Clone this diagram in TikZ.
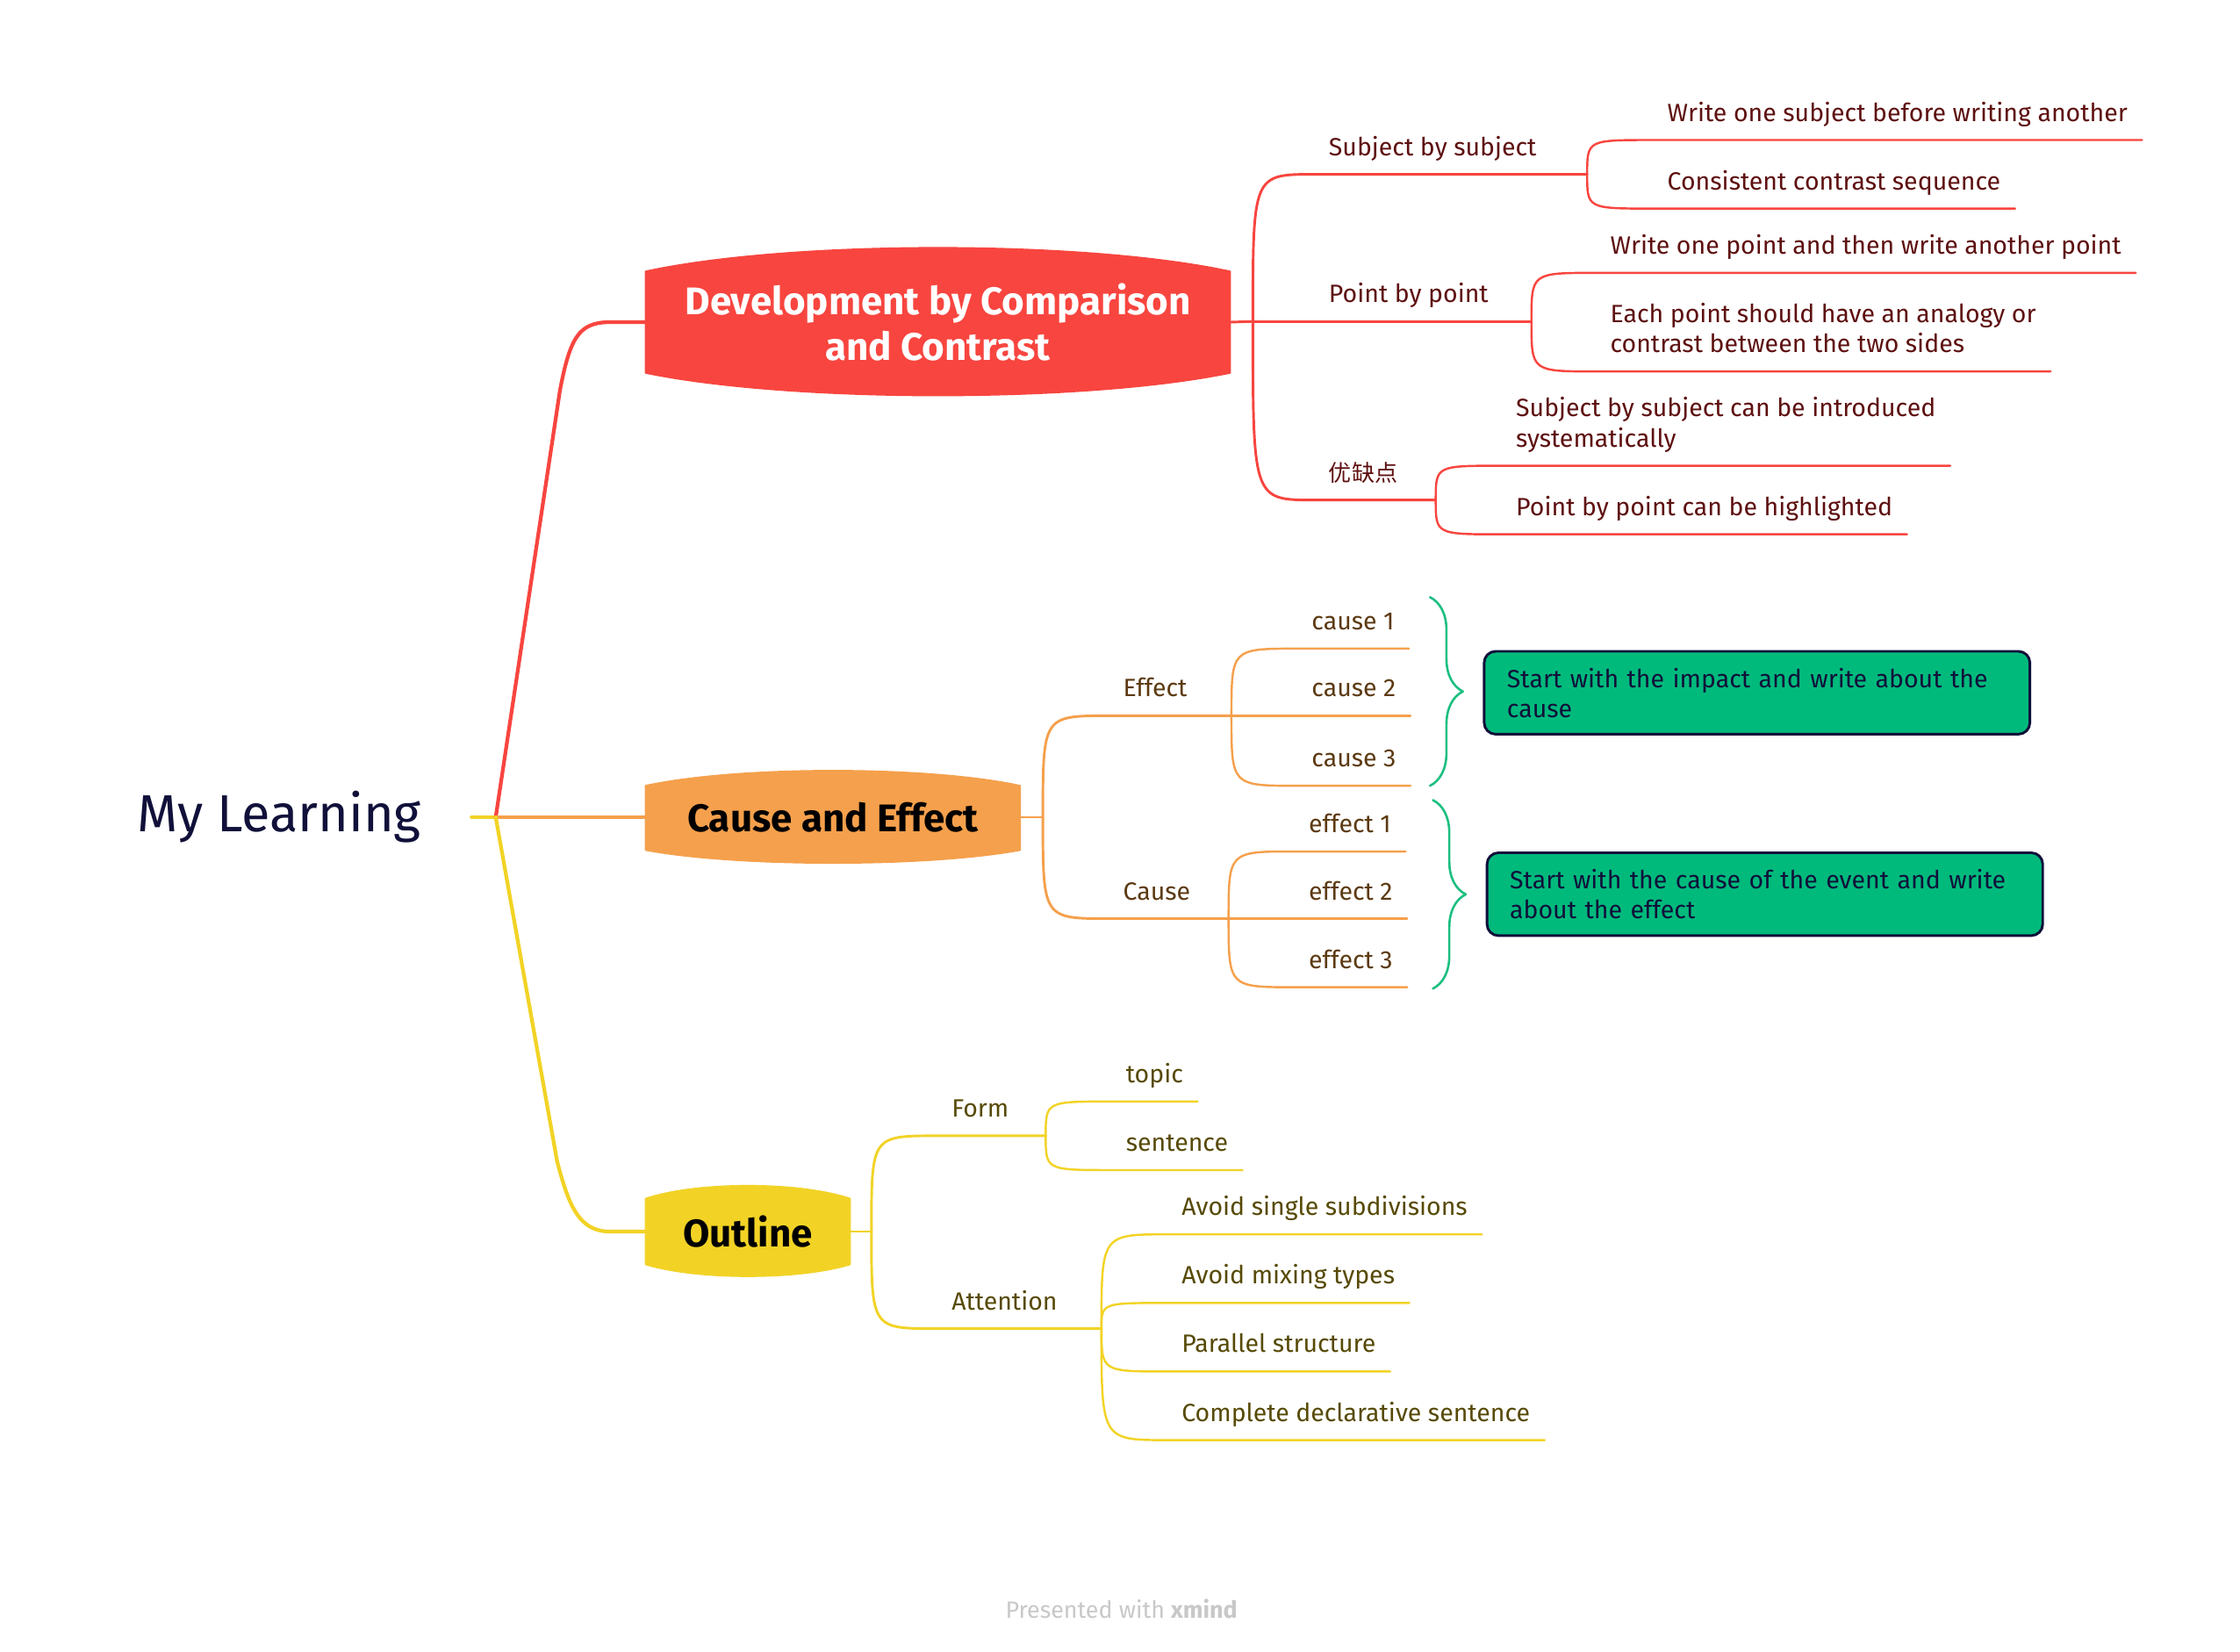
\documentclass[tikz,border=0pt]{standalone}
\usepackage{fontspec}
\setmainfont{Fira Sans}
\newfontfamily\cjkfont{Noto Sans CJK SC}
\usetikzlibrary{decorations.pathreplacing}

\definecolor{mapred}{HTML}{F8453F}
\definecolor{maporange}{HTML}{F5A04C}
\definecolor{mapyellow}{HTML}{F2D325}
\definecolor{mapgreen}{HTML}{1DBF80}
\definecolor{sumfill}{HTML}{00BA7C}
\definecolor{navy}{HTML}{10103A}
\definecolor{redtext}{HTML}{5E1010}
\definecolor{orangetext}{HTML}{5C3A12}
\definecolor{yellowtext}{HTML}{574A06}
\definecolor{creditgray}{HTML}{C8C8C8}

\tikzset{
  leaf/.style={anchor=south west, inner xsep=10, inner ysep=8, text depth=5,
    align=left, font=\fontsize{17.5}{21}\selectfont},
  redleaf/.style={leaf, text=redtext},
  orangeleaf/.style={leaf, text=orangetext},
  yellowleaf/.style={leaf, text=yellowtext},
  maintopic/.style={inner sep=0, align=center, font=\fontsize{27}{32}\selectfont\bfseries},
  summary/.style={anchor=north west, draw=navy, line width=1.8, fill=sumfill,
    rounded corners=8, inner xsep=16, align=left, text=navy, minimum height=58,
    font=\fontsize{17.5}{21}\selectfont},
  redm/.style={draw=mapred, line width=1.8},
  redl/.style={draw=mapred, line width=1.5},
  orangem/.style={draw=maporange, line width=1.8},
  orangel/.style={draw=maporange, line width=1.5},
  yellowm/.style={draw=mapyellow, line width=1.8},
  yellowl/.style={draw=mapyellow, line width=1.5}
}

\begin{document}
\begin{tikzpicture}[x=1pt, y=-1pt, line cap=round, line join=round]
    \fill[white] (0,0) rectangle (1568,1156);
    \useasboundingbox (0,0) rectangle (1568,1156);
    % Central topic
    \node[font=\fontsize{36.5}{40}\selectfont, text=navy, anchor=east, inner xsep=35] (root) at (330,572) {My Learning};
    \coordinate (jr) at (347,572);
    % Development box
    \filldraw[fill=mapred, draw=mapred, line width=1.2] (452,190) .. controls (554,168) and (759,168) .. (861,190)
      -- (861,261) .. controls (759,282) and (554,282) .. (452,261) -- cycle;
    \node[maintopic, text=white, minimum width=409, minimum height=71] (dev) at (656.5,225.5) {Development by Comparison\\and Contrast};
    % Cause and effect box
    \filldraw[fill=maporange, draw=maporange, line width=1.2] (452,550) .. controls (517,536) and (649,536) .. (714,550)
      -- (714,595) .. controls (649,607) and (517,607) .. (452,595) -- cycle;
    \node[maintopic, minimum width=262, minimum height=45] (ce) at (583,572) {Cause and Effect};
    % Outline box
    \filldraw[fill=mapyellow, draw=mapyellow, line width=1.2] (452,839) .. controls (488,827) and (559,827) .. (595,839)
      -- (595,885) .. controls (559,896) and (488,896) .. (452,885) -- cycle;
    \node[maintopic, minimum width=143, minimum height=46] (out) at (523.5,862) {Outline};
    % Main branches
    \draw[mapyellow, line width=2.4] (root.east) -- (jr);
    \draw[mapred, line width=2.6] (jr) -- ++(45,-299) .. controls +(7,-36) and +(-22,0) .. ([xshift=-25]dev.west) -- (dev.west);
    \draw[maporange, line width=2.4] (jr) -- (ce.west);
    \draw[mapyellow, line width=2.6] (jr) -- ++(43,241) .. controls +(8,30) and +(-22,0) .. ([xshift=-25]out.west) -- (out.west);

    % Development branches
    \coordinate (dev-j) at (877,225);
    \node[redleaf] (sbs) at (920,122) {Subject by subject};
    \node[redleaf] (pbp) at (920,225) {Point by point};
    \node[redleaf, font=\cjkfont\fontsize{16}{21}\selectfont] (pros) at (920,350) {优缺点};
    \coordinate (sbs-j) at (1111,122);
    \coordinate (pbp-j) at (1072,225);
    \coordinate (pros-j) at (1005,350);
    \draw[redm] (dev.east) -- (dev-j);
    \draw[redm] (dev-j) .. controls (dev-j |- sbs.south west) .. (sbs.south west) -- (sbs-j);
    \draw[redm] (dev-j) -- (pbp.south west) -- (pbp-j);
    \draw[redm] (dev-j) .. controls (dev-j |- pros.south west) .. (pros.south west) -- (pros-j);
    % Subject by subject
    \node[redleaf] (ws1) at (1157,98) {Write one subject before writing another};
    \node[redleaf] (ws2) at (1157,146) {Consistent contrast sequence};
    \draw[redl] (sbs-j) .. controls (sbs-j |- ws1.south west) .. (ws1.south west) -- (ws1.south east);
    \draw[redl] (sbs-j) .. controls (sbs-j |- ws2.south west) .. (ws2.south west) -- (ws2.south east);
    % Point by point
    \node[redleaf] (wp1) at (1117,191) {Write one point and then write another point};
    \node[redleaf] (wp2) at (1117,260) {Each point should have an analogy or\\contrast between the two sides};
    \draw[redl] (pbp-j) .. controls (pbp-j |- wp1.south west) .. (wp1.south west) -- (wp1.south east);
    \draw[redl] (pbp-j) .. controls (pbp-j |- wp2.south west) .. (wp2.south west) -- (wp2.south east);
    % Pros and cons
    \node[redleaf] (pc1) at (1051,326) {Subject by subject can be introduced\\systematically};
    \node[redleaf] (pc2) at (1051,374) {Point by point can be highlighted};
    \draw[redl] (pros-j) .. controls (pros-j |- pc1.south west) .. (pc1.south west) -- (pc1.south east);
    \draw[redl] (pros-j) .. controls (pros-j |- pc2.south west) .. (pc2.south west) -- (pc2.south east);

    % Cause and effect branches
    \coordinate (ce-j) at (730,572);
    \node[orangeleaf] (eff) at (776,501) {Effect};
    \node[orangeleaf] (cau) at (776,643) {Cause};
    \coordinate (eff-j) at (862,501);
    \coordinate (cau-j) at (860,643);
    \draw[orangem] (ce.east) -- (ce-j);
    \draw[orangem] (ce-j) .. controls (ce-j |- eff.south west) .. (eff.south west) -- (eff-j);
    \draw[orangem] (ce-j) .. controls (ce-j |- cau.south west) .. (cau.south west) -- (cau-j);
    % Effect
    \node[orangeleaf] (c1) at (908,454) {cause 1};
    \node[orangeleaf] (c2) at (908,501) {cause 2};
    \node[orangeleaf] (c3) at (908,550) {cause 3};
    \draw[orangel] (eff-j) .. controls (eff-j |- c1.south west) .. (c1.south west) -- (c1.south east);
    \draw[orangel] (eff-j) -- (c2.south west) -- (c2.south east);
    \draw[orangel] (eff-j) .. controls (eff-j |- c3.south west) .. (c3.south west) -- (c3.south east);
    % Cause
    \node[orangeleaf] (e1) at (906,596) {effect 1};
    \node[orangeleaf] (e2) at (906,643) {effect 2};
    \node[orangeleaf] (e3) at (906,691) {effect 3};
    \draw[orangel] (cau-j) .. controls (cau-j |- e1.south west) .. (e1.south west) -- (e1.south east);
    \draw[orangel] (cau-j) -- (e2.south west) -- (e2.south east);
    \draw[orangel] (cau-j) .. controls (cau-j |- e3.south west) .. (e3.south west) -- (e3.south east);
    % Summaries
    \coordinate (br1-top) at (1001,418);
    \coordinate (br1-bot) at (1001,550);
    \coordinate (br2-top) at (1003,560);
    \coordinate (br2-bot) at (1003,692);
    \draw[mapgreen, line width=1.6, decorate, decoration={brace, amplitude=23}] (br1-top) -- (br1-bot);
    \draw[mapgreen, line width=1.6, decorate, decoration={brace, amplitude=23}] (br2-top) -- (br2-bot);
    \node[summary, text width=350] (sum1) at (1038,455) {Start with the impact and write about the\\cause};
    \node[summary, text width=357] (sum2) at (1040,596) {Start with the cause of the event and write\\about the effect};

    % Outline branches
    \coordinate (out-j) at (610,862);
    \node[yellowleaf] (form) at (656,795) {Form};
    \node[yellowleaf] (att) at (656,930) {Attention};
    \coordinate (form-j) at (732,795);
    \coordinate (att-j) at (771,930);
    \draw[yellowm] (out.east) -- (out-j);
    \draw[yellowm] (out-j) .. controls (out-j |- form.south west) .. (form.south west) -- (form-j);
    \draw[yellowm] (out-j) .. controls (out-j |- att.south west) .. (att.south west) -- (att-j);
    % Form
    \node[yellowleaf] (tpc) at (778,771) {topic};
    \node[yellowleaf] (sent) at (778,819) {sentence};
    \draw[yellowl] (form-j) .. controls (form-j |- tpc.south west) .. (tpc.south west) -- (tpc.south east);
    \draw[yellowl] (form-j) .. controls (form-j |- sent.south west) .. (sent.south west) -- (sent.south east);
    % Attention
    \node[yellowleaf] (av1) at (817,864) {Avoid single subdivisions};
    \node[yellowleaf] (av2) at (817,912) {Avoid mixing types};
    \node[yellowleaf] (par) at (817,960) {Parallel structure};
    \node[yellowleaf] (comp) at (817,1008) {Complete declarative sentence};
    \draw[yellowl] (att-j) .. controls (att-j |- av1.south west) .. (av1.south west) -- (av1.south east);
    \draw[yellowl] (att-j) .. controls (att-j |- av2.south west) .. (av2.south west) -- (av2.south east);
    \draw[yellowl] (att-j) .. controls (att-j |- par.south west) .. (par.south west) -- (par.south east);
    \draw[yellowl] (att-j) .. controls (att-j |- comp.south west) .. (comp.south west) -- (comp.south east);

    % Footer
    \node[text=creditgray, font=\fontsize{16.5}{18}\selectfont] (credit) at (785,1126) {Presented with \textbf{xmind}};
\end{tikzpicture}
\end{document}
